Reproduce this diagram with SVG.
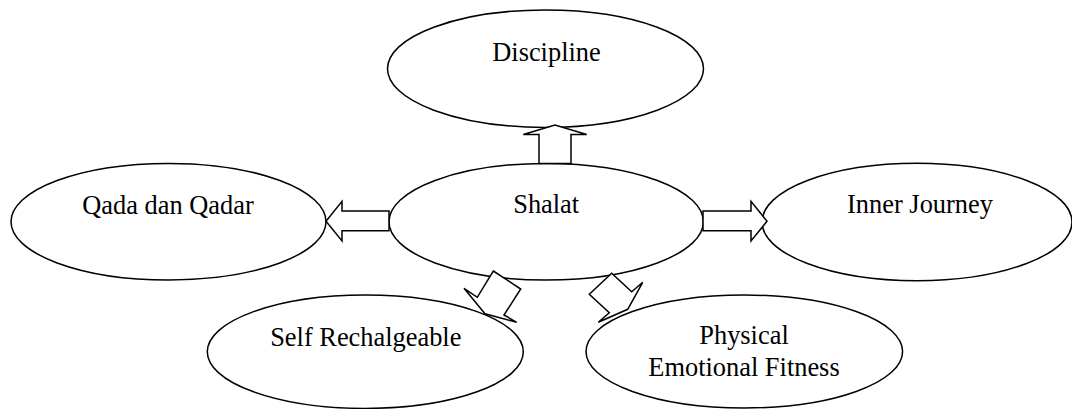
<svg xmlns="http://www.w3.org/2000/svg" width="1072" height="409" viewBox="0 0 1072 409">
<style>
.node ellipse{fill:#fff;stroke:#000;stroke-width:1.5}
.node text{font-family:"Liberation Serif","Times New Roman",serif;font-size:26.4px;fill:#000;text-anchor:middle}
.arrow{fill:#fff;stroke:#000;stroke-width:1.5;stroke-linejoin:miter}
</style>
<rect width="1072" height="409" fill="#fff"/>
<g id="node-discipline" class="node">
<ellipse cx="545.5" cy="68.7" rx="158" ry="58.7"/>
<text x="546.5" y="61">Discipline</text>
</g>
<g id="node-qada" class="node">
<ellipse cx="168.5" cy="221.7" rx="157.5" ry="58.3"/>
<text x="168" y="214">Qada dan Qadar</text>
</g>
<g id="node-shalat" class="node">
<ellipse cx="546.2" cy="221.7" rx="157.2" ry="58.3"/>
<text x="546.2" y="213.3">Shalat</text>
</g>
<g id="node-inner" class="node">
<ellipse cx="917" cy="222" rx="155" ry="58.7"/>
<text x="920" y="213.3">Inner Journey</text>
</g>
<g id="node-self" class="node">
<ellipse cx="365.3" cy="351.7" rx="158" ry="56.7"/>
<text x="365.8" y="346">Self Rechalgeable</text>
</g>
<g id="node-physical" class="node">
<ellipse cx="744.3" cy="351.5" rx="158.3" ry="56.5"/>
<text x="744" y="344.3">Physical</text>
<text x="744" y="375.7">Emotional Fitness</text>
</g>
<g id="connectors">
<polygon class="arrow" points="539,163.5 539,134.5 523.3,134.5 555,125 586.7,134.5 571,134.5 571,163.5"/>
<polygon class="arrow" points="389,211 342,211 342,201.3 326,221.3 342,241 342,230.7 389,230.7"/>
<polygon class="arrow" points="703,211 751,211 751,201.3 767,221.3 751,241 751,230.7 703,230.7"/>
<polygon class="arrow" points="493.3,271 520.7,289 504,315 516.7,322.3 485,313.8 464,288.3 477.3,297.3"/>
<polygon class="arrow" points="589.3,294.3 611.7,273.3 631.7,291.7 642.7,282.3 627.7,309.3 598.3,322.3 609.3,312.7"/>
</g>
</svg>
